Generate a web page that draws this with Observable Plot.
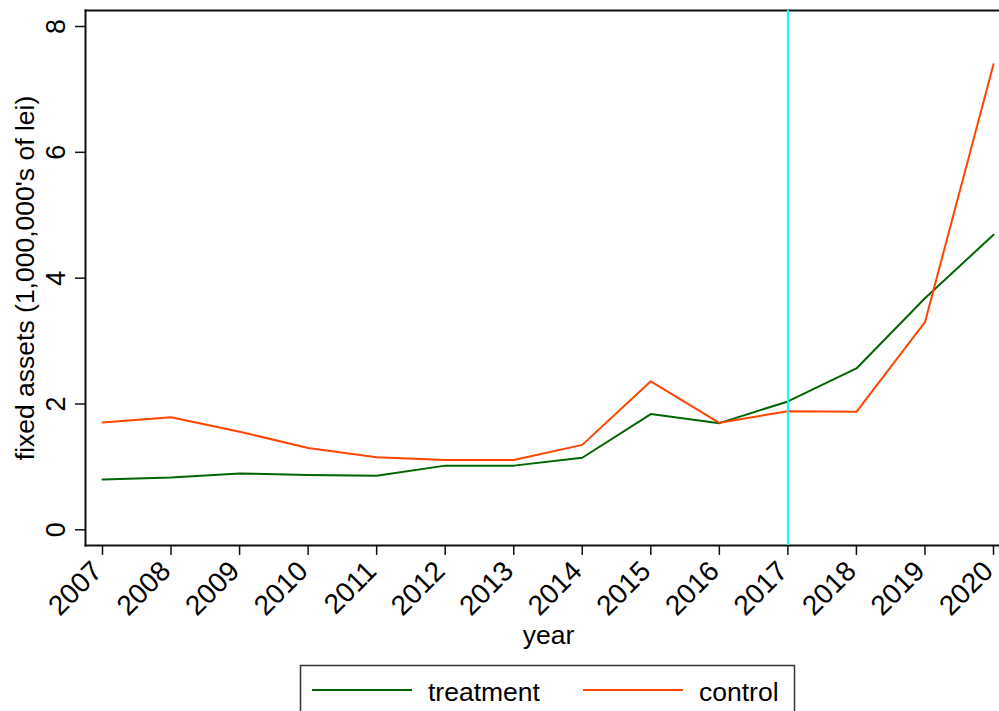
<!DOCTYPE html>
<html>
<head>
<meta charset="utf-8">
<script src="https://cdn.jsdelivr.net/npm/d3@7"></script>
<script src="https://cdn.jsdelivr.net/npm/@observablehq/plot@0.6"></script>
<style>
  html, body { margin: 0; padding: 0; background: #fff; }
  #wrap { position: relative; width: 999px; height: 711px; overflow: hidden; background: #fff;
          font-family: "Liberation Sans", Arial, Helvetica, sans-serif; }
  #chart svg { display: block; }
  #legend { position: absolute; left: 0; top: 0; }
</style>
</head>
<body>
<div id="wrap">
  <div id="chart"></div>
  <svg id="legend" width="999" height="711"></svg>
</div>
<script>
const years = [2007, 2008, 2009, 2010, 2011, 2012, 2013, 2014, 2015, 2016, 2017, 2018, 2019, 2020];
const treatment = [0.80, 0.83, 0.895, 0.87, 0.86, 1.02, 1.02, 1.145, 1.84, 1.695, 2.04, 2.565, 3.68, 4.69];
const control = [1.705, 1.79, 1.56, 1.30, 1.155, 1.11, 1.11, 1.35, 2.36, 1.70, 1.885, 1.875, 3.30, 7.40];
const groups = ["treatment", "control"];
const groupColors = ["#006400", "#FF4500"];
const policyYear = [2017];
const yTicks = [0, 2, 4, 6, 8];
const xTitle = "year";
const yTitle = "fixed assets (1,000,000's of lei)";

const FS = 26.5;      // titles and legend
const FS_X = 28;      // x tick labels
const FS_Y = 27;      // y tick labels
const series = { treatment, control };
const data = groups.flatMap(g => years.map((yr, i) => ({ year: yr, value: series[g][i], group: g })));

const chart = Plot.plot({
  width: 999,
  height: 660,
  marginLeft: 85,
  marginRight: 0,
  marginTop: 10,
  marginBottom: 115,
  style: { fontFamily: "'Liberation Sans', Arial, Helvetica, sans-serif", fontSize: FS + "px", background: "#fff", color: "#000" },
  x: { domain: [2007, 2020], insetLeft: 17, insetRight: 6 },
  y: { domain: [0, 8], insetTop: 16, insetBottom: 15.7 },
  color: { domain: groups, range: groupColors },
  marks: [
    Plot.frame({ anchor: "top", stroke: "#111", strokeWidth: 2 }),
    Plot.frame({ anchor: "left", stroke: "#111", strokeWidth: 2 }),
    Plot.frame({ anchor: "bottom", stroke: "#111", strokeWidth: 2 }),
    // x tick marks
    Plot.axisX({ ticks: years, tickFormat: () => "", tickSize: 10, label: null, stroke: "#111", strokeWidth: 1.5 }),
    // x tick labels
    Plot.axisX({ ticks: years, tickFormat: d => String(d), tickRotate: -45, tickSize: 0, tickPadding: 21,
                 lineAnchor: "middle", textAnchor: "end", dx: -5, fontSize: FS_X, label: null, stroke: "none" }),
    Plot.axisY({ ticks: yTicks, tickFormat: d => String(d), tickRotate: -90, tickSize: 10, tickPadding: 11,
                 fontSize: FS_Y, label: null, stroke: "#111", strokeWidth: 1.5 }),
    Plot.line(data, { x: "year", y: "value", stroke: "group", z: "group", strokeWidth: 2 }),
    Plot.ruleX(policyYear, { stroke: "#00FFFF", strokeWidth: 2 }),
    Plot.text([xTitle], { frameAnchor: "bottom", textAnchor: "middle", dx: 6, dy: 98, fontSize: FS, fill: "#000" }),
    Plot.text([yTitle], { frameAnchor: "left", textAnchor: "middle", rotate: -90, dx: -60, fontSize: FS, fill: "#000" })
  ]
});
document.getElementById("chart").appendChild(chart);

// Legend below the plot
const lg = d3.select("#legend");
lg.append("rect").attr("x", 300.5).attr("y", 665.5).attr("width", 494).attr("height", 80)
  .attr("fill", "none").attr("stroke", "#333").attr("stroke-width", 1.5);
const items = [
  { x1: 312, x2: 412, tx: 428 },
  { x1: 583, x2: 683, tx: 699 }
];
groups.forEach((g, i) => {
  const it = items[i];
  lg.append("line").attr("x1", it.x1).attr("x2", it.x2).attr("y1", 690).attr("y2", 690)
    .attr("stroke", groupColors[i]).attr("stroke-width", 2);
  lg.append("text").attr("x", it.tx).attr("y", 701).text(g)
    .attr("font-size", FS).attr("fill", "#000")
    .attr("font-family", "'Liberation Sans', Arial, Helvetica, sans-serif");
});
</script>
</body>
</html>
